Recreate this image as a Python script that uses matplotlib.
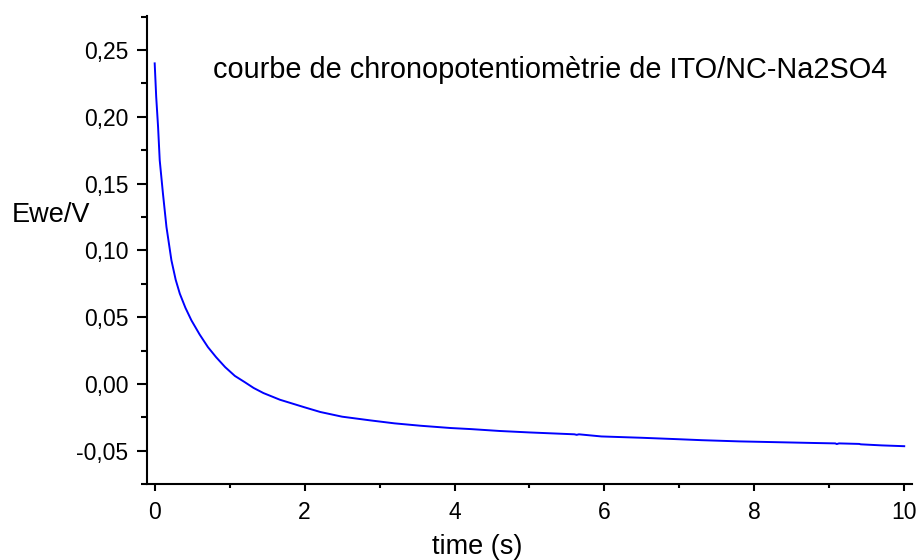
import numpy as np
import matplotlib
matplotlib.use("Agg")
import matplotlib.pyplot as plt
from matplotlib.ticker import MultipleLocator

plt.rcParams['font.family'] = ['Liberation Sans', 'DejaVu Sans']

# valeurs (temps en s, potentiel en V)
time_s = [0.00, 0.02, 0.045, 0.067, 0.11, 0.157, 0.223, 0.28, 0.335, 0.41,
          0.49, 0.60, 0.71, 0.82, 0.94, 1.07, 1.20, 1.32, 1.45, 1.67,
          2.00, 2.21, 2.50, 2.88, 3.20, 3.55, 3.95, 4.22, 4.60, 5.00,
          5.60, 5.63, 5.66, 5.96, 6.50, 7.00, 7.30, 7.80, 8.30, 8.80,
          9.08, 9.10, 9.13, 9.40, 9.42, 9.70, 10.00]
ewe_v = [0.240, 0.215, 0.1925, 0.1675, 0.1426, 0.1175, 0.0926, 0.078, 0.0676, 0.057,
         0.0476, 0.037, 0.0276, 0.020, 0.0126, 0.006, 0.0014, -0.0030, -0.0068, -0.0118,
         -0.0175, -0.0210, -0.0245, -0.0273, -0.0295, -0.0313, -0.0330, -0.0338, -0.0352, -0.0363,
         -0.0377, -0.0381, -0.0377, -0.0393, -0.0403, -0.0414, -0.0421, -0.0430, -0.0436, -0.0442,
         -0.0445, -0.0450, -0.0445, -0.0449, -0.0452, -0.0460, -0.0466]

xticks = [0, 2, 4, 6, 8, 10]
xlabels = ['0', '2', '4', '6', '8', '10']
yticks = [-0.05, 0.00, 0.05, 0.10, 0.15, 0.20, 0.25]
ylabels = ['-0,05', '0,00', '0,05', '0,10', '0,15', '0,20', '0,25']

fig = plt.figure(figsize=(9.2, 5.6), dpi=100)
ax = fig.add_axes([0.160, 0.135, 0.831, 0.837])

ax.plot(time_s, ewe_v, color='#0000ff', lw=1.4)

ax.set_xlim(-0.1, 10.1)
ax.set_ylim(-0.0752, 0.2757)
ax.set_xticks(xticks)
ax.set_xticklabels(xlabels)
ax.set_yticks(yticks)
ax.set_yticklabels(ylabels)
ax.xaxis.set_minor_locator(MultipleLocator(1))
ax.yaxis.set_minor_locator(MultipleLocator(0.025))

for s in ['top', 'right']:
    ax.spines[s].set_visible(False)
for s in ['left', 'bottom']:
    ax.spines[s].set_linewidth(1.5)

ax.tick_params(axis='both', which='both', direction='out', width=1.5, labelsize=16.5)
ax.tick_params(axis='y', which='major', length=7.5, pad=6)
ax.tick_params(axis='y', which='minor', length=4.5)
ax.tick_params(axis='x', which='major', length=5, pad=7)
ax.tick_params(axis='x', which='minor', length=3)

ax.set_xlabel('time (s)', fontsize=19.5, va='center')
ax.xaxis.set_label_coords(0.431, -0.134)
ax.set_ylabel('Ewe/V', fontsize=19.5, rotation=0, ha='left', va='center')
ax.yaxis.set_label_coords(-0.1775, 0.5747)

ax.text(0.0863, 0.884, 'courbe de chronopotentiomètrie de ITO/NC-Na2SO4',
        transform=ax.transAxes, fontsize=20.8, ha='left', va='center')

fig.savefig('out.png', dpi=100)
